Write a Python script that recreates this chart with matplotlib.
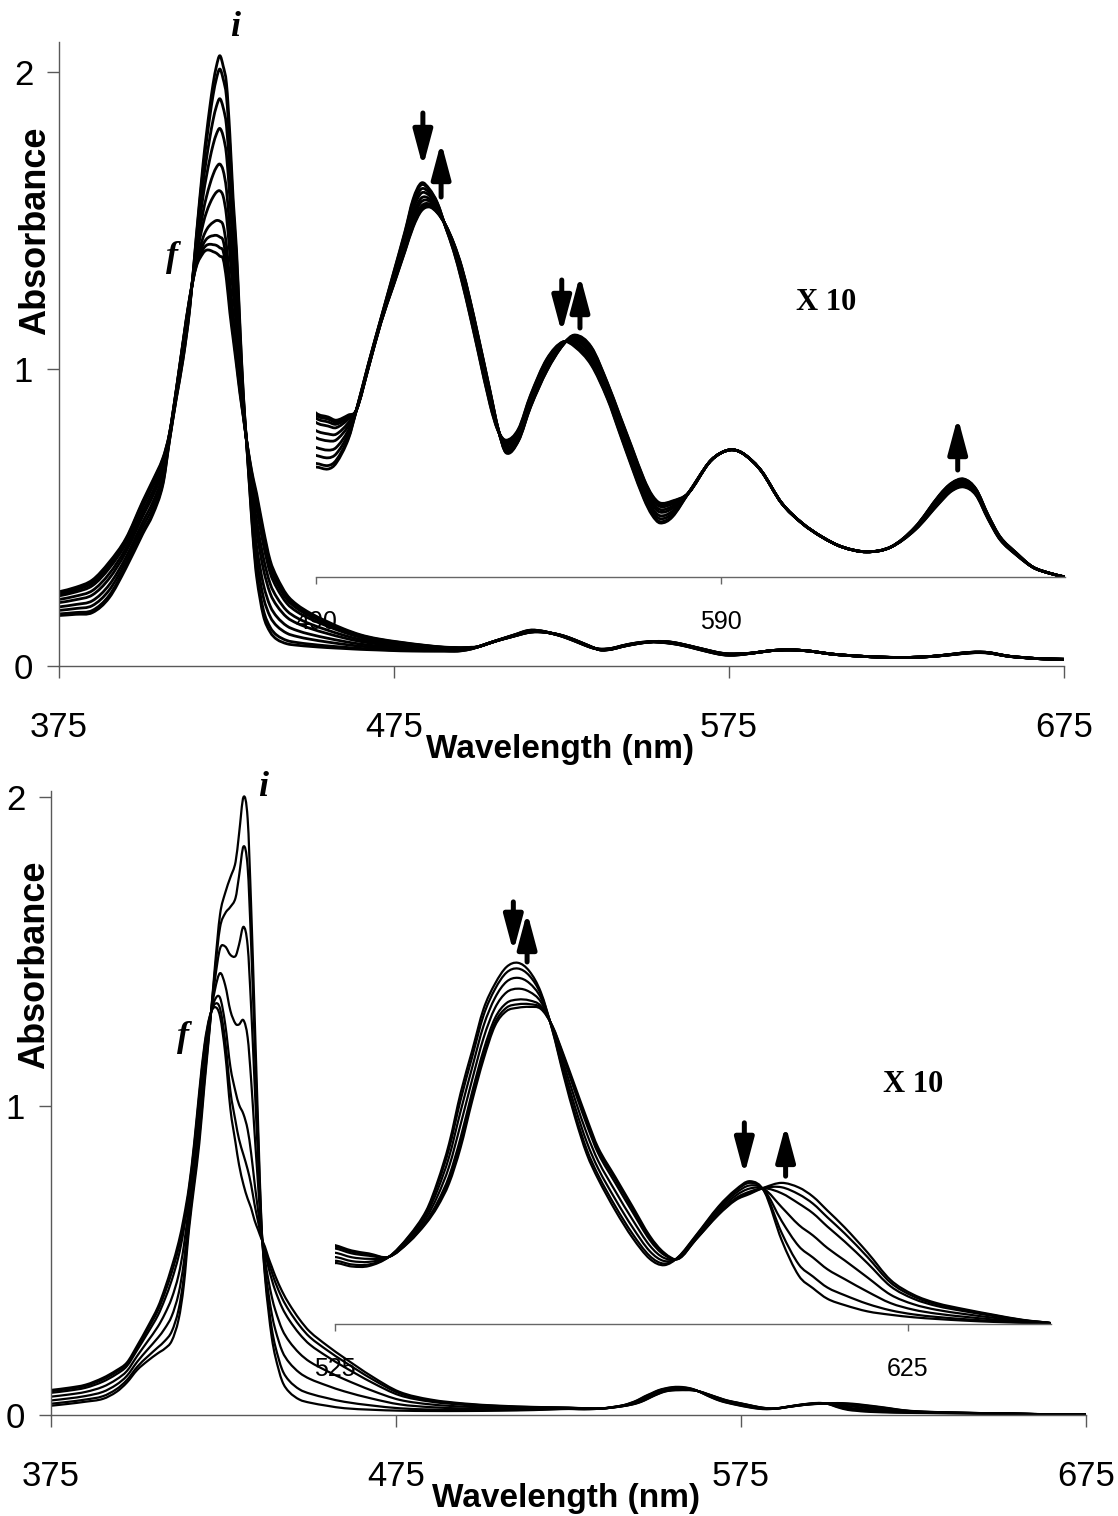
import numpy as np
import matplotlib.pyplot as plt
from matplotlib.path import Path
from matplotlib.patches import PathPatch

plt.rcParams['font.family'] = ['Liberation Sans', 'DejaVu Sans']

# ---- spectra (absorbance), upper titration ----
top_wl = [375, 380, 385, 390, 395, 400, 403, 406, 408, 410, 412, 414, 416, 418, 419, 420,
          421, 422, 423, 424, 425, 426, 427, 428, 429, 430, 431, 432, 433, 434, 436, 438,
          440, 443, 446, 450, 455, 460, 465, 470, 477, 484, 490, 493, 495, 498, 500, 503,
          506, 509, 512, 514, 516, 518, 520, 522, 524, 526, 528, 530, 533, 535, 537, 540,
          543, 547, 551, 554, 558, 562, 565, 568, 571, 573, 575, 578, 582, 587, 590, 593,
          596, 600, 605, 610, 615, 620, 626, 632, 638, 644, 647, 650, 653, 656, 659, 663,
          667, 671, 675]
top_initial = [0.170, 0.174, 0.180, 0.230, 0.330, 0.445, 0.510, 0.610, 0.760, 0.900, 1.030,
               1.200, 1.450, 1.690, 1.790, 1.880, 1.960, 2.020, 2.055, 2.020, 1.960, 1.790,
               1.570, 1.400, 1.150, 0.920, 0.750, 0.580, 0.420, 0.300, 0.170, 0.115, 0.090,
               0.075, 0.070, 0.066, 0.062, 0.059, 0.056, 0.054, 0.051, 0.050, 0.050, 0.0495,
               0.051, 0.057, 0.0643, 0.076, 0.087, 0.098, 0.109, 0.117, 0.121, 0.1195, 0.116,
               0.110, 0.104, 0.0965, 0.088, 0.079, 0.0655, 0.059, 0.0567, 0.0595, 0.068, 0.077,
               0.0813, 0.080, 0.0755, 0.067, 0.0585, 0.050, 0.042, 0.038, 0.036, 0.0375,
               0.0435, 0.051, 0.0535, 0.0543, 0.053, 0.049, 0.041, 0.036, 0.0325, 0.030,
               0.0288, 0.030, 0.0343, 0.041, 0.044, 0.045, 0.043, 0.037, 0.0318, 0.028,
               0.025, 0.0235, 0.0225]
top_final = [0.250, 0.265, 0.290, 0.350, 0.430, 0.555, 0.625, 0.700, 0.784, 0.930, 1.090,
             1.240, 1.345, 1.390, 1.400, 1.400, 1.395, 1.390, 1.380, 1.370, 1.300, 1.190,
             1.100, 1.010, 0.918, 0.840, 0.760, 0.690, 0.630, 0.580, 0.460, 0.357, 0.300,
             0.240, 0.207, 0.178, 0.150, 0.125, 0.105, 0.092, 0.080, 0.070, 0.0635, 0.0625,
             0.0617, 0.063, 0.0643, 0.075, 0.086, 0.095, 0.104, 0.110, 0.114, 0.115, 0.1135,
             0.1105, 0.106, 0.100, 0.092, 0.083, 0.069, 0.0595, 0.0535, 0.0565, 0.065, 0.074,
             0.0805, 0.083, 0.080, 0.071, 0.063, 0.055, 0.047, 0.043, 0.041, 0.0415, 0.0435,
             0.051, 0.0535, 0.0543, 0.053, 0.049, 0.041, 0.036, 0.0325, 0.030, 0.0288,
             0.030, 0.035, 0.043, 0.046, 0.047, 0.0445, 0.038, 0.0325, 0.0285, 0.025,
             0.0235, 0.0225]
# Soret maximum of every recorded spectrum, first to last
top_soret_max = [2.055, 2.01, 1.91, 1.81, 1.69, 1.60, 1.50, 1.45, 1.42, 1.40]

# ---- spectra (absorbance), lower titration ----
bot_wl = [375, 380, 385, 390, 394, 397, 400, 403, 406, 408, 410, 412, 413.5, 415, 416.5,
          418, 419.5, 421, 422.5, 424, 425.5, 427, 428.5, 429.5, 430.8, 432, 433, 434, 435,
          436, 437, 438, 439, 440, 442, 444, 447, 450, 455, 460, 468, 476, 485, 495, 505,
          515, 520, 525, 528, 531, 534.5, 538, 541, 543, 545, 547, 549, 551, 553, 555, 557,
          559, 561, 563, 565, 567, 569, 571, 574, 577, 580, 582.5, 585, 588, 592, 595,
          597.5, 600, 603, 606, 608.5, 611, 614, 618, 622, 626, 630, 635, 640, 645, 650,
          660, 675]
bot_initial = [0.030, 0.036, 0.043, 0.052, 0.075, 0.105, 0.146, 0.175, 0.200, 0.215, 0.240,
               0.310, 0.420, 0.600, 0.740, 0.880, 1.070, 1.250, 1.450, 1.620, 1.690, 1.740,
               1.790, 1.880, 2.000, 1.930, 1.650, 1.300, 0.950, 0.620, 0.450, 0.340, 0.250,
               0.190, 0.110, 0.075, 0.050, 0.040, 0.030, 0.022, 0.017, 0.014, 0.013, 0.013,
               0.014, 0.016, 0.018, 0.0195, 0.0187, 0.0188, 0.021, 0.026, 0.032, 0.039,
               0.048, 0.060, 0.070, 0.080, 0.086, 0.090, 0.091, 0.089, 0.084, 0.075, 0.064,
               0.054, 0.0455, 0.0395, 0.032, 0.0255, 0.0205, 0.019, 0.021, 0.026, 0.033,
               0.037, 0.039, 0.0365, 0.025, 0.0165, 0.0135, 0.011, 0.0095, 0.008, 0.0072,
               0.0066, 0.0062, 0.0058, 0.0055, 0.0053, 0.0052, 0.003, 0.0015]
bot_final = [0.081, 0.088, 0.098, 0.120, 0.145, 0.170, 0.225, 0.285, 0.350, 0.410, 0.480,
             0.560, 0.640, 0.740, 0.880, 1.050, 1.200, 1.290, 1.320, 1.290, 1.170, 0.990,
             0.880, 0.810, 0.745, 0.700, 0.670, 0.630, 0.600, 0.570, 0.545, 0.510, 0.480,
             0.450, 0.400, 0.360, 0.310, 0.270, 0.225, 0.185, 0.125, 0.075, 0.050, 0.037,
             0.030, 0.026, 0.025, 0.0238, 0.0225, 0.0218, 0.021, 0.0245, 0.029, 0.033,
             0.0385, 0.047, 0.058, 0.068, 0.076, 0.0795, 0.0803, 0.0805, 0.080, 0.076,
             0.069, 0.0615, 0.054, 0.047, 0.040, 0.033, 0.026, 0.022, 0.0205, 0.025, 0.031,
             0.0345, 0.036, 0.0375, 0.0386, 0.0375, 0.0353, 0.032, 0.028, 0.022, 0.0155,
             0.012, 0.010, 0.0085, 0.0072, 0.006, 0.0052, 0.003, 0.0015]
bot_soret_max = [2.00, 1.84, 1.58, 1.43, 1.35, 1.33, 1.32]

main_xticks = [375, 475, 575, 675]
main_yticks = [0, 1, 2]
top_inset_ticks = [490, 590]
bot_inset_ticks = [525, 625]

# arrows in the x10 insets: (wavelength, tail, head)
top_arrows = [(516.4, 1.385, 1.25), (520.9, 1.175, 1.3125), (550.7, 0.9675, 0.835),
              (555.2, 0.8475, 0.98), (648.5, 0.4925, 0.625)]
bot_arrows = [(556.2, 1.055, 0.936), (558.6, 0.912, 1.031), (596.5, 0.529, 0.405),
              (603.7, 0.402, 0.524)]


def spectra_set(a0, a1, maxima):
    # each intermediate spectrum as the i/f mixture whose maximum equals the read value
    a0 = np.array(a0)
    a1 = np.array(a1)
    out = []
    for m in maxima:
        lo, hi = 0.0, 1.0
        for _ in range(60):
            mid = 0.5 * (lo + hi)
            if (a0 + mid * (a1 - a0)).max() > m:
                lo = mid
            else:
                hi = mid
        out.append(a0 + lo * (a1 - a0))
    return out


def smooth_trace(ax, x, y, **kw):
    # cubic Hermite path through the sampled points (the spectrometer trace is smooth)
    x = np.asarray(x, float)
    y = np.asarray(y, float)
    n = len(x)
    verts = [(x[0], y[0])]
    codes = [Path.MOVETO]
    for k in range(n - 1):
        a, b = max(k - 1, 0), min(k + 2, n - 1)
        h = x[k + 1] - x[k]
        m1 = (y[k + 1] - y[a]) / (x[k + 1] - x[a])
        m2 = (y[b] - y[k]) / (x[b] - x[k])
        verts += [(x[k] + h / 3, y[k] + m1 * h / 3),
                  (x[k + 1] - h / 3, y[k + 1] - m2 * h / 3),
                  (x[k + 1], y[k + 1])]
        codes += [Path.CURVE4] * 3
    ax.add_patch(PathPatch(Path(verts, codes), fill=False, capstyle='round',
                           joinstyle='round', **kw))


W, H = 1118, 1516
fig = plt.figure(figsize=(W / 100, H / 100), dpi=100)


def rect(x0, y0, x1, y1):
    return [x0 / W, 1 - y1 / H, (x1 - x0) / W, (y1 - y0) / H]


def ftext(x, y, s, **kw):
    fig.text(x / W, 1 - y / H, s, ha='center', va='center', **kw)


AX_GREY = '0.35'


def style_main(ax):
    for s in ['top', 'right']:
        ax.spines[s].set_visible(False)
    for s in ['left', 'bottom']:
        ax.spines[s].set_color(AX_GREY)
        ax.spines[s].set_linewidth(1)
    ax.set_xticks(main_xticks)
    ax.set_yticks(main_yticks)
    ax.tick_params(axis='x', length=8.6, width=1, color=AX_GREY, pad=24, labelsize=25)
    ax.tick_params(axis='y', length=8.6, width=1, color=AX_GREY, pad=10, labelsize=25)
    ax.set_facecolor('none')


def style_inset(ax, ticks):
    for s in ['top', 'right', 'left']:
        ax.spines[s].set_visible(False)
    ax.spines['bottom'].set_color('0.4')
    ax.spines['bottom'].set_linewidth(1)
    ax.set_xticks(ticks)
    ax.set_yticks([])
    ax.tick_params(axis='x', length=5, width=1, color='0.4', pad=19, labelsize=18)
    ax.patch.set_visible(False)


def draw_arrows(ax, arrows):
    for wl, tail, head in arrows:
        ax.annotate('', xy=(wl, head), xytext=(wl, tail), annotation_clip=False,
                    arrowprops=dict(arrowstyle='-|>,head_length=0.6,head_width=0.16',
                                    mutation_scale=36, lw=3.6, color='black',
                                    shrinkA=0, shrinkB=0))


panels = [
    dict(wl=top_wl, a0=top_initial, a1=top_final, maxima=top_soret_max, lw=2.0,
         main=(59, 666 - 2.1 * 297, 1064, 666), ylim=(0, 2.1),
         inset=(316, 100, 1065, 577), inset_x=(490, 675), inset_y=(0.225, 0.225 + 477 / 400),
         inset_ticks=top_inset_ticks, arrows=top_arrows,
         absorb=(36, 231), wave=(560, 750), i_lab=(235, 27), f_lab=(172, 257), x10=(826, 302)),
    dict(wl=bot_wl, a0=bot_initial, a1=bot_final, maxima=bot_soret_max, lw=1.6,
         main=(51, 1415 - 2.02 * 309, 1086, 1415), ylim=(0, 2.02),
         inset=(334.5, 880, 1051, 1324), inset_x=(525, 650), inset_y=(0.05, 0.05 + 444 / 420),
         inset_ticks=bot_inset_ticks, arrows=bot_arrows,
         absorb=(35, 965), wave=(566, 1498), i_lab=(263, 788), f_lab=(183, 1038), x10=(913, 1085)),
]

for p in panels:
    curves = spectra_set(p['a0'], p['a1'], p['maxima'])

    # x10 expanded view of the Q bands (drawn first so the main traces sit above it)
    axi = fig.add_axes(rect(*p['inset']))
    for c in curves:
        smooth_trace(axi, p['wl'], 10 * c, edgecolor='black', lw=p['lw'])
    axi.set_xlim(*p['inset_x'])
    axi.set_ylim(*p['inset_y'])
    style_inset(axi, p['inset_ticks'])
    draw_arrows(axi, p['arrows'])

    ax = fig.add_axes(rect(*p['main']))
    for c in curves:
        smooth_trace(ax, p['wl'], c, edgecolor='black', lw=p['lw'])
    ax.set_xlim(375, 675)
    ax.set_ylim(*p['ylim'])
    style_main(ax)

    ftext(*p['absorb'], 'Absorbance', rotation=90, fontsize=26, fontweight='bold')
    ftext(*p['wave'], 'Wavelength (nm)', fontsize=24, fontweight='bold')
    ftext(*p['i_lab'], 'i', fontsize=26, fontweight='bold', style='italic',
          family=['Liberation Serif', 'DejaVu Serif'])
    ftext(*p['f_lab'], 'f', fontsize=26, fontweight='bold', style='italic',
          family=['Liberation Serif', 'DejaVu Serif'])
    ftext(*p['x10'], 'X 10', fontsize=22, fontweight='bold',
          family=['Liberation Serif', 'DejaVu Serif'])

fig.savefig('out.png', dpi=100)
